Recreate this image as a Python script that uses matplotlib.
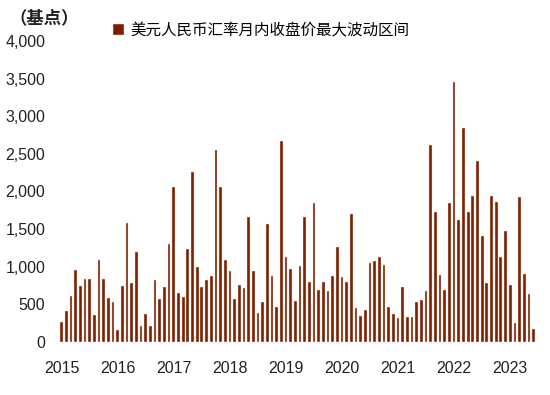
import matplotlib
matplotlib.use("Agg")
import matplotlib.pyplot as plt
import numpy as np

plt.rcParams['font.family'] = ['Liberation Sans', 'Noto Sans CJK SC', 'DejaVu Sans']

# monthly values, Jan 2015 - Jun 2023 (bp)
values = [
    266, 404, 608, 953, 745, 838, 830, 359, 1090, 830, 577, 528,      # 2015
    152, 745, 1574, 777, 1197, 213, 368, 213, 820, 572, 731, 1299,    # 2016
    2061, 652, 590, 1229, 2261, 997, 731, 820, 874, 2549, 2061, 1086, # 2017
    944, 572, 750, 714, 1654, 944, 386, 524, 1561, 874, 465, 2669,    # 2018
    1122, 963, 545, 1011, 1654, 794, 1840, 687, 794, 670, 874, 1263,  # 2019
    856, 794, 1702, 448, 342, 422, 1043, 1073, 1122, 1024, 465, 368,  # 2020
    311, 731, 324, 324, 524, 560, 670, 2620, 1729, 883, 687, 1840,    # 2021
    3449, 1618, 2838, 1729, 1933, 2403, 1401, 777, 1933, 1853, 1122, 1467,  # 2022
    758, 244, 1919, 900, 634, 165,                                    # 2023
]
years = ['2015', '2016', '2017', '2018', '2019', '2020', '2021', '2022', '2023']
series_name = '美元人民币汇率月内收盘价最大波动区间'
unit_label = '（基点）'

fig = plt.figure(figsize=(5.5, 3.95), dpi=100)
ax = fig.add_axes([0.1, 0.135, 0.882, 0.761])

x = np.arange(len(values))
ax.bar(x, values, width=0.58, color='#7b2000', edgecolor='#f3e6e0',
       linewidth=0.3, label=series_name)

ax.set_ylim(0, 4000)
ax.set_xlim(-1.43, 102.4)
ax.set_yticks(np.arange(0, 4001, 500))
ax.set_yticklabels([f'{v:,}' for v in range(0, 4001, 500)])
ax.set_xticks(np.arange(len(years)) * 12)
ax.set_xticklabels(years)
ax.tick_params(length=0, labelsize=11.5, colors='#222222')
ax.tick_params(axis='x', pad=14)
ax.tick_params(axis='y', pad=7)
for s in ax.spines.values():
    s.set_visible(False)

fig.text(0.018, 0.955, unit_label, fontsize=12.5, fontweight='bold',
         color='#222222', va='center', ha='left')
fig.legend(loc='center left', bbox_to_anchor=(0.205, 0.922), frameon=False,
           fontsize=11.2, handlelength=0.7, handleheight=0.7,
           handletextpad=0.4, borderpad=0, borderaxespad=0)

fig.savefig('out.png', dpi=100)
